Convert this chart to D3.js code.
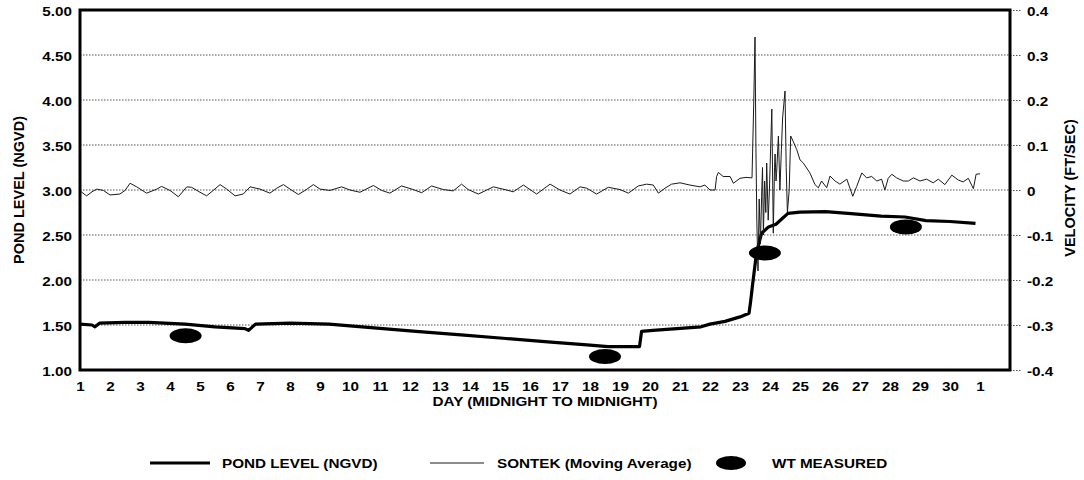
<!DOCTYPE html>
<html><head><meta charset="utf-8">
<script src="https://cdn.jsdelivr.net/npm/d3@7"></script>
<style>body{margin:0;background:#fff}svg text{font-family:"Liberation Sans",Arial,sans-serif;font-weight:bold;fill:#000}</style>
</head><body><svg id="c" width="1084" height="480"></svg>
<script>
// ---------- data ----------
const dayTicks = [1,2,3,4,5,6,7,8,9,10,11,12,13,14,15,16,17,18,19,20,21,22,23,24,25,26,27,28,29,30,31];
const dayTickLabels = ["1","2","3","4","5","6","7","8","9","10","11","12","13","14","15","16","17","18","19","20","21","22","23","24","25","26","27","28","29","30","1"];
const levelTicks = [1.0,1.5,2.0,2.5,3.0,3.5,4.0,4.5,5.0];
const levelTickLabels = ["1.00","1.50","2.00","2.50","3.00","3.50","4.00","4.50","5.00"];
const velocityTicks = [-0.4,-0.3,-0.2,-0.1,0,0.1,0.2,0.3,0.4];
const velocityTickLabels = ["-0.4","-0.3","-0.2","-0.1","0","0.1","0.2","0.3","0.4"];

const pondDays = [1.0,1.4,1.5,1.65,2.5,3.3,4.5,5.5,6.5,6.62,6.85,8.0,9.3,10.7,12.2,13.7,15.2,16.7,17.9,18.6,19.65,19.72,20.1,20.9,21.7,22.0,22.5,23.0,23.3,23.35,23.42,23.55,23.72,23.95,24.2,24.4,24.6,25.0,25.85,26.6,27.7,28.5,29.2,30.0,30.85];
const pondLevels = [1.51,1.50,1.48,1.52,1.53,1.53,1.51,1.48,1.46,1.44,1.51,1.52,1.51,1.47,1.43,1.39,1.35,1.31,1.28,1.26,1.26,1.43,1.44,1.46,1.48,1.51,1.54,1.59,1.63,1.75,1.95,2.3,2.52,2.59,2.62,2.68,2.74,2.755,2.76,2.74,2.71,2.70,2.66,2.65,2.63];

const sontekDays = [1.0,1.06,1.22,1.4,1.56,1.78,2.0,2.33,2.5,2.67,2.89,3.22,3.56,3.72,4.0,4.28,4.56,4.72,5.0,5.22,5.44,5.67,5.89,6.17,6.44,6.67,7.0,7.33,7.56,7.78,8.0,8.28,8.5,8.78,9.0,9.33,9.72,10.0,10.33,10.78,11.06,11.33,11.72,12.11,12.39,12.72,13.11,13.44,13.72,13.94,14.28,14.78,15.22,15.44,15.78,16.22,16.67,17.0,17.33,17.67,17.89,18.22,18.61,19.0,19.28,19.61,19.89,20.11,20.28,20.5,20.72,21.0,21.33,21.67,21.83,22.0,22.17,22.22,22.28,22.44,22.67,22.78,23.0,23.2,23.4,23.46,23.5,23.53,23.56,23.6,23.64,23.68,23.72,23.75,23.78,23.82,23.86,23.89,23.94,23.98,24.06,24.11,24.15,24.17,24.2,24.22,24.28,24.33,24.38,24.42,24.5,24.54,24.58,24.64,24.69,24.78,24.89,25.0,25.11,25.33,25.5,25.61,25.72,25.89,26.0,26.17,26.33,26.56,26.76,26.89,27.06,27.22,27.39,27.56,27.72,27.83,27.94,28.06,28.22,28.44,28.61,28.78,29.0,29.22,29.44,29.61,29.83,30.06,30.28,30.44,30.61,30.78,30.87,31.0];
const sontekVel = [-0.002,-0.005,-0.013,-0.004,0.002,-0.001,-0.011,-0.009,-0.001,0.015,0.007,-0.007,0.002,0.008,-0.001,-0.015,0.007,0.006,-0.005,-0.013,-0.001,0.012,0.002,-0.013,-0.009,0.007,0.002,-0.007,0.004,0.012,0.002,-0.01,-0.001,0.012,0.002,-0.001,0.007,0,-0.005,0.01,-0.001,-0.007,0.009,0.001,-0.006,0.009,0.001,-0.002,0.013,0.001,-0.009,0.007,0,-0.004,0.011,-0.009,0.013,0,-0.009,0.007,0.004,-0.009,0.006,0.001,-0.007,0.009,0.013,0.011,-0.007,0.004,0.013,0.016,0.011,0.007,0.011,0,0,0.03,0.039,0.03,0.03,0.015,0.026,0.028,0.027,0.2,0.34,0.1,-0.067,-0.18,-0.02,-0.12,-0.015,0.05,-0.1,0.02,-0.05,0.06,-0.067,0.0,0.18,-0.096,0.05,0.08,0.02,0.037,0.12,0,0.09,0.16,0.22,0.05,-0.05,0,0.12,0.107,0.09,0.067,0.06,0.038,0.012,0.005,0.02,0.005,0.031,0.02,0.013,0.024,-0.014,0.008,0.038,0.027,0.03,0.02,0.024,0,0.026,0.035,0.027,0.02,0.02,0.027,0.02,0.024,0.016,0.024,0.012,0.033,0.022,0.018,0.026,0.003,0.035,0.036];

const wtDays = [4.52,18.5,23.83,28.53];
const wtLevels = [1.38,1.15,2.30,2.59];

const legendLabels = ["POND LEVEL (NGVD)","SONTEK (Moving Average)","WT MEASURED"];

// ---------- drawing ----------
const svg = d3.select("#c");
const SX = 1.13, FS = 13.5;
const x = d3.scaleLinear().domain([1,32]).range([80,1010]);
const yL = d3.scaleLinear().domain([1,5]).range([370,10]);
const yR = d3.scaleLinear().domain([-0.4,0.4]).range([370,10]);

function stretchText(sel){
  sel.selectAll("text").each(function(){
    const t = d3.select(this);
    const tx = +t.attr("x") || 0;
    t.attr("x",0).attr("transform",`translate(${tx},0) scale(${SX},1)`);
  });
}
function label(x0,y0,s,anchor){
  return svg.append("text").attr("transform",`translate(${x0},${y0}) scale(${SX},1)`)
    .attr("text-anchor",anchor||"start").style("font-size",FS+"px").text(s);
}

// gridlines
svg.append("g").selectAll("line").data(levelTicks.filter(d=>d>1&&d<5)).join("line")
  .attr("x1",x(1)).attr("x2",x(32)).attr("y1",d=>yL(d)).attr("y2",d=>yL(d))
  .attr("stroke","#555").attr("stroke-width",1).attr("stroke-dasharray","1.5,1.5");

// left axis
const gl = svg.append("g").attr("transform",`translate(${x(1)},0)`)
  .call(d3.axisLeft(yL).tickValues(levelTicks).tickFormat((d,i)=>levelTickLabels[i]).tickSize(0).tickPadding(8));
gl.select(".domain").remove();
gl.selectAll("text").style("font-size",FS+"px").attr("dy","0.4em");
stretchText(gl);

// right axis
const gr = svg.append("g").attr("transform",`translate(${x(32)},0)`)
  .call(d3.axisRight(yR).tickValues(velocityTicks).tickFormat((d,i)=>velocityTickLabels[i]).tickSize(12).tickPadding(5));
gr.select(".domain").remove();
gr.selectAll("line").attr("stroke","#555").attr("stroke-dasharray","1.5,1.5");
gr.selectAll("text").style("font-size",FS+"px").attr("dy","0.4em");
stretchText(gr);

// bottom axis
const gb = svg.append("g").attr("transform",`translate(0,${yL(1)})`)
  .call(d3.axisBottom(x).tickValues(dayTicks).tickFormat((d,i)=>dayTickLabels[i]).tickSize(0).tickPadding(11.5));
gb.select(".domain").remove();
gb.selectAll("text").style("font-size",FS+"px");
stretchText(gb);

// series
const pond = pondDays.map((d,i)=>[d,pondLevels[i]]);
const sontek = sontekDays.map((d,i)=>[d,sontekVel[i]]);
svg.append("path").datum(pond)
  .attr("d",d3.line().x(d=>x(d[0])).y(d=>yL(d[1])))
  .attr("fill","none").attr("stroke","#000").attr("stroke-width",3.2).attr("stroke-linejoin","round");
svg.append("path").datum(sontek)
  .attr("d",d3.line().x(d=>x(d[0])).y(d=>yR(d[1])))
  .attr("fill","none").attr("stroke","#1a1a1a").attr("stroke-width",1).attr("stroke-linejoin","round");
svg.append("g").selectAll("ellipse").data(wtDays).join("ellipse")
  .attr("cx",d=>x(d)).attr("cy",(d,i)=>yL(wtLevels[i])).attr("rx",16).attr("ry",7.5).attr("fill","#000");

// frame
svg.append("rect").attr("x",x(1)).attr("y",yL(5)).attr("width",x(32)-x(1)).attr("height",yL(1)-yL(5))
  .attr("fill","none").attr("stroke","#000").attr("stroke-width",3);

// titles
label(545,406,"DAY (MIDNIGHT TO MIDNIGHT)","middle");
svg.append("text").attr("transform","translate(24,190) rotate(-90)").attr("text-anchor","middle").style("font-size","14.5px").text("POND LEVEL (NGVD)");
svg.append("text").attr("transform","translate(1075,188) rotate(-90)").attr("text-anchor","middle").style("font-size","14.5px").text("VELOCITY (FT/SEC)");

// legend
const ly = 463;
svg.append("line").attr("x1",150).attr("x2",210).attr("y1",ly).attr("y2",ly).attr("stroke","#000").attr("stroke-width",3);
label(222,ly+5,legendLabels[0],"start");
svg.append("line").attr("x1",430).attr("x2",484).attr("y1",ly).attr("y2",ly).attr("stroke","#1a1a1a").attr("stroke-width",1);
label(497,ly+5,legendLabels[1],"start");
svg.append("ellipse").attr("cx",731).attr("cy",ly).attr("rx",15).attr("ry",7).attr("fill","#000");
label(772,ly+5,legendLabels[2],"start");
</script></body></html>
